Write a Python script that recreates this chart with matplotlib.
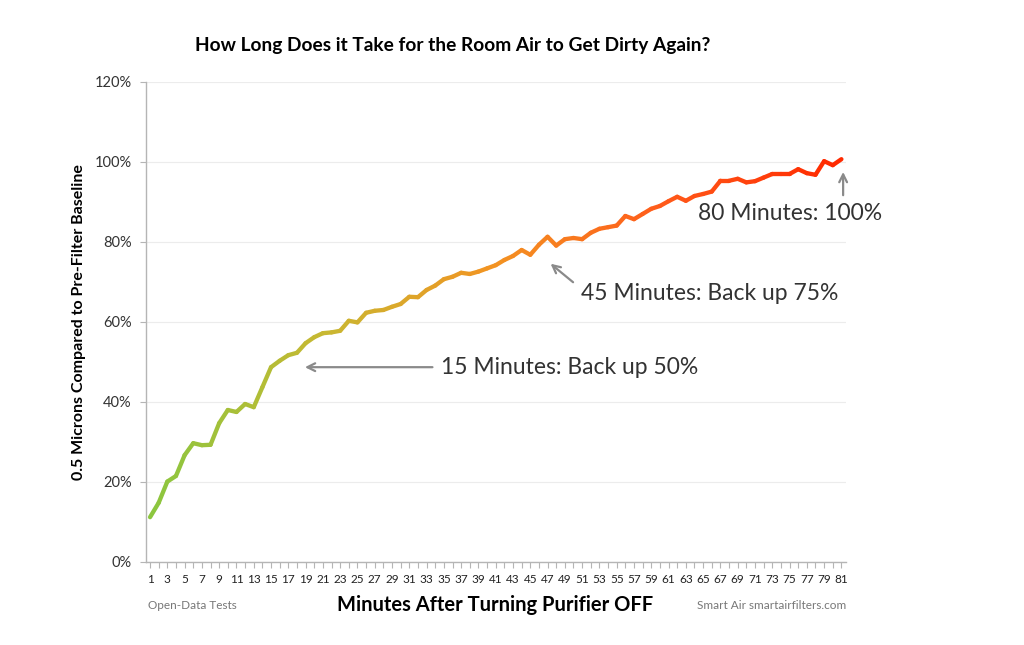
import numpy as np
import matplotlib.pyplot as plt
from matplotlib.collections import LineCollection
from matplotlib.colors import LinearSegmentedColormap
from matplotlib.ticker import PercentFormatter

minutes = list(range(1, 82))
pct = [11.2, 14.8, 20.1, 21.5, 26.7, 29.7, 29.2, 29.3, 34.7, 38.0,
       37.5, 39.5, 38.7, 43.7, 48.7, 50.3, 51.7, 52.3, 54.7, 56.2,
       57.2, 57.4, 57.8, 60.3, 59.9, 62.3, 62.8, 63.0, 63.8, 64.5,
       66.3, 66.2, 68.0, 69.1, 70.7, 71.3, 72.3, 72.0, 72.6, 73.4,
       74.2, 75.5, 76.5, 78.0, 76.8, 79.3, 81.3, 79.1, 80.7, 81.0,
       80.7, 82.3, 83.3, 83.7, 84.1, 86.5, 85.7, 87.0, 88.3, 89.0,
       90.2, 91.3, 90.3, 91.5, 92.0, 92.6, 95.3, 95.3, 95.8, 94.9,
       95.2, 96.1, 97.0, 97.0, 97.0, 98.2, 97.2, 96.8, 100.2, 99.2,
       100.7]

title = "How Long Does it Take for the Room Air to Get Dirty Again?"
xlabel = "Minutes After Turning Purifier OFF"
ylabel = "0.5 Microns Compared to Pre-Filter Baseline"
# (label, arrow head, arrow tail, text anchor)
notes = [
    ("15 Minutes: Back up 50%", (18.6, 48.7), (34.0, 48.7), (34.7, 48.7)),
    ("45 Minutes: Back up 75%", (47.1, 75.0), (50.2, 69.5), (50.9, 67.2)),
    ("80 Minutes: 100%", (81.2, 98.2), (81.2, 91.0), (64.4, 87.0)),
]

x = np.array(minutes, dtype=float)
y = np.array(pct)

fig = plt.figure(figsize=(10.24, 6.45), dpi=100)
ax = fig.add_axes([0.1423, 0.1287, 0.6836, 0.7442])

# green -> yellow -> orange -> red along the line
cmap = LinearSegmentedColormap.from_list(
    "dirty", ["#8cc63f", "#c8b832", "#f39322", "#ff5a1a", "#ff2a00"])
pts = np.column_stack([x, y]).reshape(-1, 1, 2)
segs = np.concatenate([pts[:-1], pts[1:]], axis=1)
lc = LineCollection(segs, cmap=cmap, linewidth=3.1, capstyle="round",
                    joinstyle="round", zorder=3)
lc.set_array(np.linspace(0, 1, len(segs)))
ax.add_collection(lc)

ax.set_xlim(0.5, 81.5)
ax.set_ylim(0, 120)
ax.set_yticks(range(0, 121, 20))
ax.yaxis.set_major_formatter(PercentFormatter(decimals=0))
ax.set_xticks(minutes)
ax.set_xticklabels([str(m) if m % 2 else "" for m in minutes])
ax.grid(axis="y", color="#ececec", linewidth=0.8)
ax.set_axisbelow(True)

for side in ("top", "right"):
    ax.spines[side].set_visible(False)
for side in ("left", "bottom"):
    ax.spines[side].set_color("#b5b5b5")
    ax.spines[side].set_linewidth(1.0)
ax.tick_params(axis="both", color="#b5b5b5", length=4)
ax.tick_params(axis="x", labelsize=8.5, pad=5, labelcolor="#222222")
ax.tick_params(axis="y", labelsize=10.5, pad=6, labelcolor="#333333")
for lab in ax.get_xticklabels() + ax.get_yticklabels():
    lab.set_family("Lato")

ax.set_ylabel(ylabel, family="Lato", weight="bold", fontsize=11.5,
              labelpad=6)
fig.text(0.4834, 0.062, xlabel, family="Lato", weight="bold",
         fontsize=14.5, ha="center", va="center")
fig.text(0.1445, 0.062, "Open-Data Tests", family="Lato", fontsize=8.5,
         color="#777777", ha="left", va="center")
fig.text(0.826, 0.062, "Smart Air smartairfilters.com", family="Lato",
         fontsize=8.5, color="#777777", ha="right", va="center")
fig.text(0.442, 0.929, title, family="Lato", weight="bold", fontsize=13.8,
         ha="center", va="center")

for text, head, tail, pos in notes:
    ax.annotate("", xy=head, xytext=tail,
                arrowprops=dict(arrowstyle="->", color="#8a8a8a", lw=1.6,
                                mutation_scale=14))
    ax.text(pos[0], pos[1], text, family="Lato", fontsize=16.5,
            color="#333333", va="center", ha="left")

fig.savefig("out.png", dpi=100, facecolor="white")
